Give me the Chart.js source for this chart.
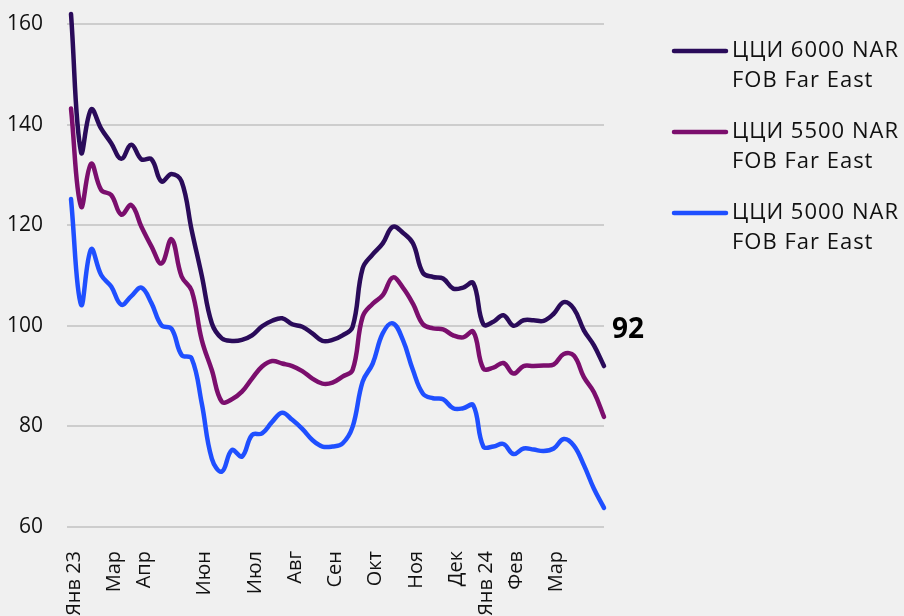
<!DOCTYPE html>
<html lang="ru">
<head>
<meta charset="utf-8">
<title>ЦЦИ FOB Far East</title>
<script src="https://cdn.jsdelivr.net/npm/chart.js@4.4.1/dist/chart.umd.min.js"></script>
<style>
    html, body { margin: 0; padding: 0; background: #f0f0f0; overflow: hidden; }
    #wrap { width: 904px; height: 616px; }
</style>
</head>
<body>
<div id="wrap"><canvas id="grafik" width="904" height="616"></canvas></div>
<script>
// недели, подписи только на первых неделях месяцев
const kategorii = [
    'Янв 23', '', '', '', 'Мар', '', '', 'Апр', '', '', '', '', '', 'Июн', '', '', '', '', 'Июл', '', '',
    '', 'Авг', '', '', '', 'Сен', '', '', '', 'Окт', '', '', '', 'Ноя', '', '', '', 'Дек', '', '', 'Янв 24',
    '', '', 'Фев', '', '', '', 'Мар', '', '', '', '', ''
];

const cci6000 = [
    162, 134.5, 143, 139.2, 136.3, 133.2, 136, 133.1, 133.1, 128.7, 130.2, 128.7, 119, 110,
    100.5, 97.5, 97.0, 97.2, 98.1, 99.9, 101.0, 101.5, 100.3, 99.8, 98.5, 97.0, 97.2, 98.1,
    99.8, 111.4, 114.2, 116.4, 119.7, 118.5, 116.4, 110.5, 109.7, 109.4, 107.4, 107.6, 108.5,
    100.3, 100.8, 102.1, 100, 101.1, 101.1, 101.0, 102.4, 104.7, 103.4, 99.1, 96.1, 92
];

const cci5500 = [
    143.2, 123.7, 132.2, 127.0, 126.0, 122.1, 124.0, 119.7, 115.8, 112.4, 117.2, 109.8, 107, 97.2,
    91.2, 84.9, 85.4, 86.9, 89.5, 91.9, 93.0, 92.5, 92.0, 91.0, 89.5, 88.5, 88.7, 89.9,
    91.2, 101.8, 104.4, 106.1, 109.6, 107.6, 104.4, 100.3, 99.5, 99.3, 98.1, 97.7, 98.8,
    91.5, 91.7, 92.6, 90.5, 92.0, 92.0, 92.1, 92.3, 94.4, 94.1, 89.8, 86.8, 81.9
];

const cci5000 = [
    125.2, 104.2, 115.2, 110.1, 107.8, 104.2, 105.9, 107.6, 104.5, 100.1, 99.4, 94.2, 93.5, 84.6,
    73.6, 71.0, 75.3, 74.0, 78.3, 78.6, 80.9, 82.7, 81.3, 79.5, 77.3, 76.0, 76.0, 76.6,
    79.9, 88.9, 92.5, 98.5, 100.5, 97.2, 91.2, 86.5, 85.6, 85.4, 83.6, 83.6, 84.2,
    76.0, 76.0, 76.5, 74.5, 75.6, 75.4, 75.1, 75.6, 77.5, 76.2, 72.3, 67.6, 63.8
];

const nazvaniya = [
    ['ЦЦИ 6000 NAR', 'FOB Far East'],
    ['ЦЦИ 5500 NAR', 'FOB Far East'],
    ['ЦЦИ 5000 NAR', 'FOB Far East']
];
const cveta = ['#2a0b5a', '#7b0e6d', '#1f4fff'];

const SHRIFT = "'Open Sans', sans-serif";

// легенда справа в две строки + подпись последнего значения
const legendaPlugin = {
    id: 'legendaSprava',
    afterDraw(chart) {
        const ctx = chart.ctx;
        const area = chart.chartArea;
        const y = chart.scales.y;
        ctx.save();

        chart.data.datasets.forEach((ds, i) => {
            const yc = 51 + i * 81;
            ctx.strokeStyle = ds.borderColor;
            ctx.lineWidth = 4.5;
            ctx.lineCap = 'round';
            ctx.beginPath();
            ctx.moveTo(674, yc);
            ctx.lineTo(726, yc);
            ctx.stroke();

            ctx.fillStyle = '#111';
            ctx.font = '22px ' + SHRIFT;
            ctx.letterSpacing = '1px';
            ctx.textAlign = 'left';
            ctx.textBaseline = 'middle';
            ds.label.forEach((stroka, k) => {
                ctx.fillText(stroka, 732, yc + k * 30);
            });
        });

        const posl = cci6000[cci6000.length - 1];
        ctx.letterSpacing = '0px';
        ctx.fillStyle = '#000';
        ctx.font = 'bold 28px ' + SHRIFT;
        ctx.textAlign = 'left';
        ctx.textBaseline = 'middle';
        ctx.fillText(String(Math.round(posl)), area.right + 8, y.getPixelForValue(100) + 4);
        ctx.restore();
    }
};

function postroitGrafik() {
    const ryady = [cci6000, cci5500, cci5000];
    const ctx = document.getElementById('grafik');

    new Chart(ctx, {
        type: 'line',
        data: {
            labels: kategorii,
            datasets: ryady.map((znach, i) => ({
                label: nazvaniya[i],
                data: znach,
                borderColor: cveta[i],
                backgroundColor: cveta[i],
                borderWidth: 4.5,
                borderCapStyle: 'round',
                borderJoinStyle: 'round',
                pointRadius: 0,
                tension: 0.4,
                clip: false
            }))
        },
        options: {
            responsive: false,
            animation: false,
            events: [],
            layout: { padding: { top: 24, right: 300, left: 0, bottom: 0 } },
            plugins: {
                legend: { display: false },
                tooltip: { enabled: false }
            },
            scales: {
                x: {
                    grid: { display: false },
                    border: { display: false },
                    afterFit: function(scale) { scale.height = 89; },
                    ticks: {
                        autoSkip: false,
                        maxRotation: 90,
                        minRotation: 90,
                        padding: 16,
                        labelOffset: 3,
                        color: '#111',
                        font: { family: SHRIFT, size: 20 }
                    }
                },
                y: {
                    min: 60,
                    max: 160,
                    afterFit: function(scale) {
                        // ширина под подписи, без лишнего отступа сверху
                        scale.width = 71;
                        scale.paddingTop = 0;
                        scale.paddingBottom = 0;
                    },
                    border: { display: false },
                    grid: { color: '#cdcdcd', lineWidth: 2, tickLength: 4, drawTicks: true },
                    ticks: {
                        stepSize: 20,
                        padding: 24,
                        color: '#111',
                        font: { family: SHRIFT, size: 21 }
                    }
                }
            }
        },
        plugins: [legendaPlugin]
    });
}

document.addEventListener('DOMContentLoaded', postroitGrafik);
</script>
</body>
</html>
